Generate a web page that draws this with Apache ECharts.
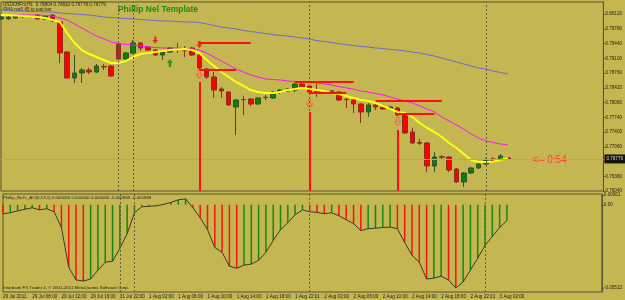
<!DOCTYPE html>
<html>
<head>
<meta charset="utf-8">
<script src="https://cdn.jsdelivr.net/npm/echarts@6/dist/echarts.min.js"></script>
<style>
  html, body { margin: 0; padding: 0; background: #c4b650; }
  #chart { width: 625px; height: 300px; }
</style>
</head>
<body>
<div id="chart"></div>
<script>
// H1 bars, 29 Jul 04:00 .. 3 Aug 03:00, plus empty slots to the right
const categories = [
  '29 Jul 04:00', '29 Jul 05:00', '29 Jul 06:00', '29 Jul 07:00', '29 Jul 08:00', '29 Jul 09:00', '29 Jul 10:00', '29 Jul 11:00',
  '29 Jul 12:00', '29 Jul 13:00', '29 Jul 14:00', '29 Jul 15:00', '29 Jul 16:00', '29 Jul 17:00', '29 Jul 18:00', '29 Jul 19:00',
  '31 Jul 22:00', '31 Jul 23:00',
  '1 Aug 00:00', '1 Aug 01:00', '1 Aug 02:00', '1 Aug 03:00', '1 Aug 04:00', '1 Aug 05:00', '1 Aug 06:00', '1 Aug 07:00',
  '1 Aug 08:00', '1 Aug 09:00', '1 Aug 10:00', '1 Aug 11:00', '1 Aug 12:00', '1 Aug 13:00', '1 Aug 14:00', '1 Aug 15:00',
  '1 Aug 16:00', '1 Aug 17:00', '1 Aug 18:00', '1 Aug 19:00', '1 Aug 20:00', '1 Aug 21:00', '1 Aug 22:01', '1 Aug 23:00',
  '2 Aug 00:00', '2 Aug 01:00', '2 Aug 02:00', '2 Aug 03:00', '2 Aug 04:00', '2 Aug 05:00', '2 Aug 06:00', '2 Aug 07:00',
  '2 Aug 08:00', '2 Aug 09:00', '2 Aug 10:00', '2 Aug 11:00', '2 Aug 12:00', '2 Aug 13:00', '2 Aug 14:00', '2 Aug 15:00',
  '2 Aug 16:00', '2 Aug 17:00', '2 Aug 18:00', '2 Aug 19:00', '2 Aug 20:00', '2 Aug 21:00', '2 Aug 22:01', '2 Aug 23:00',
  '3 Aug 00:00', '3 Aug 01:00', '3 Aug 02:00', '3 Aug 03:00', '3 Aug 04:00', '3 Aug 05:00', '3 Aug 06:00', '3 Aug 07:00',
  '3 Aug 08:00', '3 Aug 09:00', '3 Aug 10:00', '3 Aug 11:00', '3 Aug 12:00', '3 Aug 13:00', '3 Aug 14:00', '3 Aug 15:00',
  '3 Aug 16:00'
]
// every 4th bar gets a label
const tickLabels = [
  '29 Jul 2011', '29 Jul 08:00', '29 Jul 12:00', '29 Jul 16:00', '31 Jul 22:00', '1 Aug 02:00', '1 Aug 06:00',
  '1 Aug 10:00', '1 Aug 14:00', '1 Aug 18:00', '1 Aug 22:01', '2 Aug 02:00', '2 Aug 06:00', '2 Aug 10:00',
  '2 Aug 14:00', '2 Aug 18:00', '2 Aug 22:01', '3 Aug 02:00'
]
const priceTicks = [0.8012, 0.7978, 0.7944, 0.7910, 0.7876, 0.7842, 0.7808, 0.7774, 0.7740, 0.7706, 0.7672, 0.7638, 0.7604]

// [open, close, low, high]
const candles = [
  [0.80005, 0.80051, 0.79982, 0.80074], [0.80010, 0.80046, 0.79988, 0.80070], [0.80028, 0.80074, 0.80005, 0.80097],
  [0.80070, 0.80060, 0.80028, 0.80097], [0.80060, 0.80066, 0.80040, 0.80097], [0.80097, 0.80005, 0.79982, 0.80120],
  [0.80005, 0.80074, 0.79982, 0.80097], [0.80097, 0.79959, 0.79936, 0.80120], [0.79936, 0.79221, 0.78991, 0.79959],
  [0.79244, 0.78645, 0.78622, 0.79267], [0.78645, 0.78760, 0.78530, 0.79175], [0.78760, 0.78829, 0.78530, 0.78876],
  [0.78829, 0.78783, 0.78737, 0.78876], [0.78783, 0.78922, 0.78760, 0.78968], [0.78910, 0.78898, 0.78829, 0.78968],
  [0.78922, 0.78691, 0.78668, 0.78945], [0.79429, 0.79083, 0.79060, 0.79452], [0.79083, 0.79221, 0.79060, 0.79244],
  [0.79221, 0.79452, 0.79198, 0.79521], [0.79452, 0.79337, 0.79267, 0.79475], [0.79360, 0.79290, 0.79267, 0.79383],
  [0.79290, 0.79175, 0.79152, 0.79313], [0.79175, 0.79244, 0.79060, 0.79267], [0.79244, 0.79337, 0.79221, 0.79360],
  [0.79305, 0.79298, 0.79221, 0.79452], [0.79280, 0.79275, 0.79129, 0.79383], [0.79337, 0.79175, 0.79152, 0.79360],
  [0.79175, 0.78876, 0.78829, 0.79198], [0.78852, 0.78668, 0.78622, 0.78876], [0.78668, 0.78368, 0.78184, 0.78783],
  [0.78391, 0.78345, 0.78184, 0.78438], [0.78322, 0.78023, 0.78000, 0.78345], [0.77977, 0.78138, 0.77331, 0.78161],
  [0.78150, 0.78145, 0.77792, 0.78230], [0.78161, 0.78046, 0.78000, 0.78184], [0.78046, 0.78184, 0.78023, 0.78207],
  [0.78196, 0.78200, 0.78138, 0.78253], [0.78184, 0.78322, 0.78161, 0.78345], [0.78322, 0.78368, 0.78276, 0.78391],
  [0.78345, 0.78391, 0.78322, 0.78415], [0.78368, 0.78507, 0.78322, 0.78530], [0.78507, 0.78438, 0.78415, 0.78576],
  [0.78461, 0.78322, 0.78276, 0.78484], [0.78345, 0.78299, 0.78207, 0.78507], [0.78345, 0.78299, 0.78276, 0.78368],
  [0.78299, 0.78345, 0.78276, 0.78368], [0.78322, 0.78138, 0.78115, 0.78345], [0.78150, 0.78145, 0.77953, 0.78184],
  [0.78138, 0.78046, 0.77838, 0.78161], [0.78046, 0.77861, 0.77608, 0.78069], [0.77861, 0.78023, 0.77746, 0.78069],
  [0.78023, 0.77977, 0.77907, 0.78046], [0.77977, 0.77930, 0.77907, 0.78000], [0.77930, 0.77977, 0.77907, 0.78000],
  [0.77953, 0.77792, 0.77769, 0.77977], [0.77792, 0.77377, 0.77354, 0.77815], [0.77400, 0.77147, 0.77124, 0.77493],
  [0.77158, 0.77140, 0.77101, 0.77239], [0.77147, 0.76617, 0.76478, 0.77170], [0.76617, 0.76824, 0.76478, 0.76939],
  [0.76830, 0.76818, 0.76755, 0.76870], [0.76824, 0.76524, 0.76478, 0.76847], [0.76547, 0.76248, 0.76225, 0.76570],
  [0.76248, 0.76455, 0.76133, 0.76478], [0.76455, 0.76570, 0.76432, 0.76594], [0.76570, 0.76663, 0.76547, 0.76686],
  [0.76663, 0.76755, 0.76640, 0.76801], [0.76778, 0.76732, 0.76709, 0.76824], [0.76755, 0.76847, 0.76732, 0.76893],
  [0.76804, 0.76779, 0.76778, 0.76810]
]
const lastPrice = 0.76779

// moving averages (yellow fast, magenta medium, blue slow)
const maFast = [
  0.80097, 0.80097, 0.80086, 0.80074, 0.80063, 0.80051, 0.80028, 0.79982, 0.79936, 0.79682,
  0.79452, 0.79290, 0.79198, 0.79129, 0.79060, 0.78991, 0.78991, 0.79037, 0.79129, 0.79198,
  0.79221, 0.79244, 0.79267, 0.79290, 0.79302, 0.79313, 0.79290, 0.79221, 0.79060, 0.78922,
  0.78783, 0.78668, 0.78553, 0.78461, 0.78368, 0.78322, 0.78299, 0.78299, 0.78322, 0.78368,
  0.78391, 0.78415, 0.78391, 0.78368, 0.78345, 0.78299, 0.78276, 0.78230, 0.78184, 0.78138,
  0.78115, 0.78069, 0.78000, 0.77930, 0.77861, 0.77838, 0.77746, 0.77608, 0.77493, 0.77400,
  0.77285, 0.77147, 0.77032, 0.76893, 0.76755, 0.76709, 0.76709, 0.76721, 0.76755, 0.76801
]
const maMid = [
  0.80097, 0.80097, 0.80097, 0.80097, 0.80097, 0.80097, 0.80086, 0.80074, 0.80028, 0.79982,
  0.79890, 0.79797, 0.79705, 0.79613, 0.79544, 0.79475, 0.79440, 0.79417, 0.79406, 0.79383,
  0.79360, 0.79348, 0.79337, 0.79337, 0.79337, 0.79325, 0.79313, 0.79290, 0.79221, 0.79129,
  0.79037, 0.78945, 0.78852, 0.78783, 0.78714, 0.78668, 0.78622, 0.78610, 0.78599, 0.78576,
  0.78564, 0.78553, 0.78541, 0.78530, 0.78507, 0.78484, 0.78449, 0.78415, 0.78391, 0.78345,
  0.78322, 0.78288, 0.78253, 0.78207, 0.78161, 0.78115, 0.78069, 0.78000, 0.77930, 0.77861,
  0.77746, 0.77654, 0.77562, 0.77469, 0.77354, 0.77262, 0.77193, 0.77158, 0.77124, 0.77101
]
const maSlow = [
  0.80212, 0.80201, 0.80189, 0.80189, 0.80178, 0.80178, 0.80166, 0.80166, 0.80143, 0.80132,
  0.80120, 0.80109, 0.80097, 0.80074, 0.80051, 0.80040, 0.80028, 0.80017, 0.80005, 0.79994,
  0.79982, 0.79970, 0.79959, 0.79959, 0.79947, 0.79936, 0.79936, 0.79924, 0.79890, 0.79855,
  0.79819, 0.79798, 0.79775, 0.79740, 0.79717, 0.79694, 0.79671, 0.79648, 0.79625, 0.79613,
  0.79590, 0.79567, 0.79544, 0.79507, 0.79484, 0.79461, 0.79438, 0.79415, 0.79394, 0.79371,
  0.79360, 0.79337, 0.79325, 0.79302, 0.79290, 0.79267, 0.79244, 0.79221, 0.79187, 0.79152,
  0.79106, 0.79060, 0.79014, 0.78968, 0.78922, 0.78876, 0.78852, 0.78806, 0.78772, 0.78737
]

// Phillip_Nel's_AO(5,13,1)
const aoValues = [
  -0.00055, -0.00049, -0.00037, -0.00027, -0.00018, -0.00031, -0.00024, -0.00043, -0.00140, -0.00385,
  -0.00464, -0.00470, -0.00458, -0.00403, -0.00354, -0.00348, -0.00269, -0.00177, -0.00049, -0.00012,
  -0.00009, -0.00006, 0.00003, 0.00015, 0.00031, 0.00037, -0.00018, -0.00079, -0.00153, -0.00263,
  -0.00293, -0.00379, -0.00391, -0.00372, -0.00366, -0.00342, -0.00293, -0.00220, -0.00153, -0.00110,
  -0.00061, -0.00031, -0.00043, -0.00046, -0.00055, -0.00049, -0.00067, -0.00092, -0.00116, -0.00159,
  -0.00147, -0.00144, -0.00140, -0.00137, -0.00147, -0.00232, -0.00311, -0.00354, -0.00458, -0.00452,
  -0.00440, -0.00464, -0.00513, -0.00476, -0.00403, -0.00330, -0.00250, -0.00195, -0.00140, -0.00097
]
const aoTicks = [0.00061, 0, -0.00513]

// signals: [bar index, price]
const sellArrows = [[21, 0.79521], [27, 0.79417]]
const buyArrows = [[23, 0.78991]]
const signalArrows = [[27, 0.78726], [42, 0.78046], [54, 0.77642]]
const signalDrops = [[27, 0.78553], [42, 0.77861], [54, 0.77446]]
// [from bar, to bar, price]
const signalLevels = [
  [27, 34, 0.79452], [27, 32, 0.78829],
  [40, 48, 0.78553], [42, 47, 0.78299],
  [51, 60, 0.78115], [54, 59, 0.77815]
]
const daySeparators = [16, 18, 42, 66]

const priceMin = 0.76040
const priceMax = 0.80397

const frame = '#55553a'
const txt = '#1e1e14'
const smallFont = 'Liberation Sans'

let chart = echarts.init(document.getElementById('chart'), null, { renderer: 'canvas' })

let aoData = aoValues.map((v, i) => ({
  value: v,
  itemStyle: { color: (i > 0 && v > aoValues[i - 1]) ? '#148a14' : '#ff1010' }
}))

let separatorLines = daySeparators.map(i => ({ xAxis: i }))

let redLines = []
for (const d of signalDrops) {
  redLines.push([{ coord: [d[0], d[1]] }, { coord: [d[0], priceMin] }])
}
for (const s of signalLevels) {
  redLines.push([{ coord: [s[0], s[2]] }, { coord: [s[1], s[2]] }])
}

let option = {
  backgroundColor: '#c4b650',
  animation: false,
  grid: [
    { left: 1, right: 18, top: 2, height: 189, show: true, borderColor: frame, borderWidth: 1, backgroundColor: 'transparent' },
    { left: 1, right: 18, top: 194, height: 98, show: true, borderColor: frame, borderWidth: 1, backgroundColor: 'transparent' }
  ],
  xAxis: [
    {
      gridIndex: 0, type: 'category', data: categories, boundaryGap: false,
      axisLine: { show: false }, axisTick: { show: false }, axisLabel: { show: false }, splitLine: { show: false }
    },
    {
      gridIndex: 1, type: 'category', data: categories, boundaryGap: false,
      axisLine: { show: false }, axisTick: { show: false }, splitLine: { show: false },
      axisLabel: {
        interval: 3, margin: 2, align: 'left', color: txt, fontSize: 4.6, fontFamily: smallFont,
        formatter: function (v, idx) { return tickLabels[idx / 4] || '' }
      }
    }
  ],
  yAxis: [
    {
      gridIndex: 0, type: 'value', position: 'right', min: priceMin, max: priceMax,
      axisLine: { show: true, lineStyle: { color: frame } },
      axisTick: { show: true, length: 2, customValues: priceTicks, lineStyle: { color: frame } },
      axisLabel: { customValues: priceTicks, margin: 2, color: txt, fontSize: 4.6, fontFamily: smallFont, formatter: v => v.toFixed(5) },
      splitLine: { show: false }
    },
    {
      gridIndex: 1, type: 'value', position: 'right', min: -0.00538, max: 0.00067,
      axisLine: { show: true, lineStyle: { color: frame } },
      axisTick: { show: true, length: 2, customValues: aoTicks, lineStyle: { color: frame } },
      axisLabel: {
        customValues: aoTicks, margin: 2, color: txt, fontSize: 4.6, fontFamily: smallFont,
        formatter: v => (v === 0 ? '0.00' : v.toFixed(5))
      },
      splitLine: { show: false }
    }
  ],
  series: [
    {
      name: 'USDCHFm,H1', type: 'candlestick', xAxisIndex: 0, yAxisIndex: 0,
      data: candles, barWidth: 5, silent: true,
      itemStyle: { color: '#0a820a', color0: '#ff0000', borderColor: '#35502a', borderColor0: '#8a3020', borderWidth: 1 },
      markLine: {
        silent: true, symbol: 'none', animation: false, precision: 5,
        label: { show: false },
        lineStyle: { color: '#5e5e44', type: [2, 2], width: 1 },
        data: separatorLines.concat([{
          yAxis: lastPrice,
          lineStyle: { color: '#a9a88c', type: 'solid', width: 1 },
          label: {
            show: true, position: 'end', distance: 1, formatter: lastPrice.toFixed(5),
            backgroundColor: '#141410', color: '#d8d8c0', fontSize: 4.6, fontFamily: smallFont, padding: [2, 2]
          }
        }])
      }
    },
    { name: 'MA slow', type: 'line', data: maSlow, showSymbol: false, silent: true, lineStyle: { color: '#6a6ad8', width: 1 } },
    { name: 'MA mid', type: 'line', data: maMid, showSymbol: false, silent: true, lineStyle: { color: '#ff10ff', width: 1 } },
    { name: 'MA fast', type: 'line', data: maFast, showSymbol: false, silent: true, lineStyle: { color: '#ffff10', width: 2 } },
    {
      name: 'sell', type: 'scatter', data: sellArrows, silent: true,
      symbol: 'path://M3,0 L7,0 L7,6 L10,6 L5,12 L0,6 L3,6 Z', symbolSize: [6, 7],
      itemStyle: { color: '#f01010' }
    },
    {
      name: 'buy', type: 'scatter', data: buyArrows, silent: true,
      symbol: 'path://M5,0 L10,6 L7,6 L7,12 L3,12 L3,6 L0,6 Z', symbolSize: [6, 8],
      itemStyle: { color: '#108a10' }
    },
    {
      name: 'signal', type: 'scatter', data: signalArrows, silent: true,
      symbol: 'path://M3,0 L7,0 L7,6 L10,6 L5,12 L0,6 L3,6 Z', symbolSize: [6, 8],
      itemStyle: { color: 'rgba(0,0,0,0)', borderColor: '#f05a4a', borderWidth: 1 },
      markLine: {
        silent: true, symbol: 'none', animation: false, precision: 5, label: { show: false },
        lineStyle: { color: '#ff1010', type: 'solid', width: 2 },
        data: redLines
      }
    },
    {
      name: 'AO', type: 'bar', xAxisIndex: 1, yAxisIndex: 1, data: aoData, barWidth: 1.5, silent: true
    },
    {
      name: 'AO line', type: 'line', xAxisIndex: 1, yAxisIndex: 1, data: aoValues, showSymbol: false, silent: true,
      lineStyle: { color: '#3a3a2e', width: 1 },
      markLine: {
        silent: true, symbol: 'none', animation: false, label: { show: false },
        lineStyle: { color: '#5e5e44', type: [2, 2], width: 1 },
        data: separatorLines
      }
    }
  ],
  graphic: [
    { type: 'text', left: 3, top: 2, silent: true, style: { text: 'USDCHFm,H1  0.76804 0.76810 0.76778 0.76779', fill: txt, font: '4.6px ' + smallFont } },
    { type: 'text', left: 3, top: 7, silent: true, style: { text: 'SMA ma5 45 to test bar', fill: txt, font: '4.6px ' + smallFont } },
    { type: 'text', x: 158, y: 10, silent: true, style: { text: 'Phillip Nel Template', fill: '#1c8a1c', font: 'bold 8.5px ' + smallFont, align: 'center', verticalAlign: 'middle' } },
    { type: 'text', x: 532, y: 160, silent: true, style: { text: '<-- 0:54', fill: '#ff3a3a', font: '10px ' + smallFont, align: 'left', verticalAlign: 'middle' } },
    { type: 'text', left: 3, top: 196, silent: true, style: { text: "Phillip_Nel's_AO(5,13,1) 0.000000 0.000000 0.000000 -0.000969 -0.000969", fill: txt, font: '4.4px ' + smallFont } },
    { type: 'text', left: 3, top: 286, silent: true, style: { text: 'Interbank FX Trader 4, \u00a9 2001-2011 MetaQuotes Software Corp.', fill: txt, font: '4.4px ' + smallFont } }
  ]
}
chart.setOption(option)
</script>
</body>
</html>
